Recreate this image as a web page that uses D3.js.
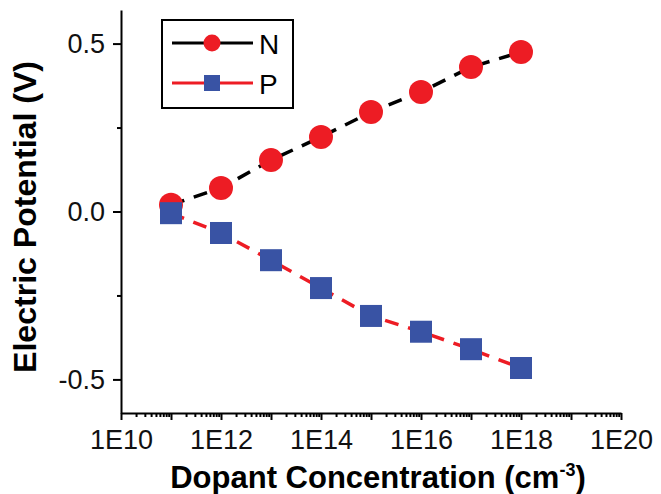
<!DOCTYPE html>
<html>
<head>
<meta charset="utf-8">
<script src="https://cdn.jsdelivr.net/npm/d3@7"></script>
<style>
  body { margin: 0; background: #fff; }
  svg text { font-family: "Liberation Sans", Arial, sans-serif; }
</style>
</head>
<body>
<svg width="661" height="494"></svg>
<script>
// values
var conc = [1e11, 1e12, 1e13, 1e14, 1e15, 1e16, 1e17, 1e18];
var nVals = [0.02, 0.07, 0.153, 0.222, 0.296, 0.356, 0.43, 0.475];
var pVals = [-0.005, -0.064, -0.145, -0.228, -0.311, -0.358, -0.41, -0.466];
var xMajor = [1e10, 1e11, 1e12, 1e13, 1e14, 1e15, 1e16, 1e17, 1e18, 1e19, 1e20];
var xLabels = ["1E10", "", "1E12", "", "1E14", "", "1E16", "", "1E18", "", "1E20"];
var yMajor = [-0.5, 0, 0.5];
var yLabels = ["-0.5", "0.0", "0.5"];
var yMinor = [-0.25, 0.25];

var red = "#ed1c24", blue = "#3953a4";

var svg = d3.select("svg");

var x = d3.scaleLog().domain([1e10, 1e20]).range([121, 621]);
var y = d3.scaleLinear().domain([-0.6, 0.6]).range([413, 10]);

// minor x ticks, 2..9 of each decade
var xMinor = [];
for (var e = 10; e < 20; e++) {
  for (var m = 2; m < 10; m++) xMinor.push(m * Math.pow(10, e));
}

svg.append("g").attr("transform", "translate(0,413)")
  .call(d3.axisBottom(x).tickValues(xMajor).tickSize(7).tickSizeOuter(0)
    .tickPadding(10)
    .tickFormat(function(d, i) { return xLabels[i]; }));
svg.append("g").attr("transform", "translate(0,413)")
  .call(d3.axisBottom(x).tickValues(xMinor).tickSize(4).tickSizeOuter(0)
    .tickFormat(""))
  .select(".domain").remove();

svg.append("g").attr("transform", "translate(121,0)")
  .call(d3.axisLeft(y).tickValues(yMajor).tickSize(8).tickSizeOuter(0)
    .tickPadding(8)
    .tickFormat(function(d, i) { return yLabels[i]; }));
svg.append("g").attr("transform", "translate(121,0)")
  .call(d3.axisLeft(y).tickValues(yMinor).tickSize(4).tickFormat(""))
  .select(".domain").remove();

svg.selectAll(".domain, .tick line").attr("stroke", "#000").attr("stroke-width", 2);
svg.selectAll(".tick text").attr("font-size", 27).attr("fill", "#111")
  .style("font-family", "Liberation Sans, Arial, sans-serif");

// axis titles
svg.append("text")
  .attr("x", 378).attr("y", 488)
  .attr("text-anchor", "middle")
  .attr("font-size", 31).attr("font-weight", "bold")
  .html('Dopant Concentration (cm<tspan dy="-12" font-size="18">-3</tspan><tspan dy="12">)</tspan>');

svg.append("text")
  .attr("transform", "translate(36,217) rotate(-90)")
  .attr("text-anchor", "middle")
  .attr("font-size", 31).attr("font-weight", "bold")
  .attr("textLength", 312).attr("lengthAdjust", "spacingAndGlyphs")
  .text("Electric Potential (V)");

// series
var line = d3.line()
  .x(function(d) { return x(d[0]); })
  .y(function(d) { return y(d[1]); });

var nData = conc.map(function(c, i) { return [c, nVals[i]]; });
var pData = conc.map(function(c, i) { return [c, pVals[i]]; });

svg.append("path").datum(nData).attr("d", line)
  .attr("fill", "none").attr("stroke", "#000").attr("stroke-width", 3.5)
  .attr("stroke-dasharray", "14,10");
svg.append("path").datum(pData).attr("d", line)
  .attr("fill", "none").attr("stroke", red).attr("stroke-width", 3.5)
  .attr("stroke-dasharray", "14,10");

svg.selectAll("circle.n").data(nData).enter().append("circle")
  .attr("class", "n")
  .attr("cx", function(d) { return x(d[0]); })
  .attr("cy", function(d) { return y(d[1]); })
  .attr("r", 12).attr("fill", red);

svg.selectAll("rect.p").data(pData).enter().append("rect")
  .attr("class", "p")
  .attr("x", function(d) { return x(d[0]) - 11; })
  .attr("y", function(d) { return y(d[1]) - 11; })
  .attr("width", 22).attr("height", 22).attr("fill", blue);

// legend
var leg = svg.append("g");
leg.append("rect").attr("x", 162).attr("y", 20).attr("width", 131).attr("height", 88)
  .attr("fill", "#fff").attr("stroke", "#000").attr("stroke-width", 2);
leg.append("line").attr("x1", 172).attr("x2", 253).attr("y1", 43).attr("y2", 43)
  .attr("stroke", "#000").attr("stroke-width", 3);
leg.append("circle").attr("cx", 212).attr("cy", 43).attr("r", 8.5).attr("fill", red);
leg.append("text").attr("x", 259).attr("y", 54).attr("font-size", 28).text("N");
leg.append("line").attr("x1", 172).attr("x2", 253).attr("y1", 83).attr("y2", 83)
  .attr("stroke", red).attr("stroke-width", 3);
leg.append("rect").attr("x", 204).attr("y", 75).attr("width", 16).attr("height", 16).attr("fill", blue);
leg.append("text").attr("x", 259).attr("y", 94).attr("font-size", 28).text("P");
</script>
</body>
</html>
